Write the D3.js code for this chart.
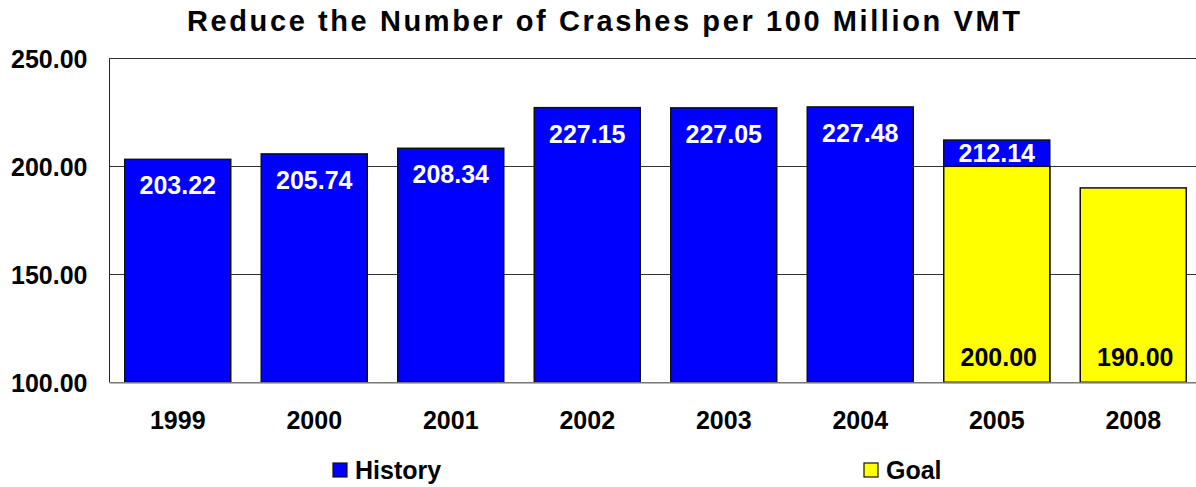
<!DOCTYPE html>
<html>
<head>
<meta charset="utf-8">
<script src="https://cdn.jsdelivr.net/npm/d3@7"></script>
<style>
  html, body { margin: 0; padding: 0; background: #fff; }
  svg { display: block; font-family: "Liberation Sans", Arial, sans-serif; font-weight: bold; }
</style>
</head>
<body>
<svg id="chart" width="1196" height="487"></svg>
<script>
const categories = ["1999", "2000", "2001", "2002", "2003", "2004", "2005", "2008"];
const historyValues = [203.22, 205.74, 208.34, 227.15, 227.05, 227.48, 212.14, null];
const goalValues = [null, null, null, null, null, null, 200.00, 190.00];
const yTicks = [100, 150, 200, 250];
const titleText = "Reduce the Number of Crashes per 100 Million VMT";
const seriesNames = ["History", "Goal"];
const seriesColors = ["#0000FF", "#FFFF00"];
const labelColors = ["#FFFFFF", "#000000"];

const svg = d3.select("#chart");
const W = 1196, H = 487;
const plot = { left: 109.5, top: 58.3, bottom: 382.3, right: 109.5 + 8 * 136.5 };

const x = d3.scaleBand().domain(categories).range([plot.left, plot.right])
  .paddingInner(0.2234).paddingOuter(0.1117);
const y = d3.scaleLinear().domain([100, 250]).range([plot.bottom, plot.top]);
const fmt = d3.format(".2f");

// title
svg.append("text")
  .attr("x", 187).attr("y", 31)
  .attr("font-size", 29).attr("letter-spacing", 2.6)
  .attr("fill", "#000")
  .text(titleText);

// gridlines (top border incl.)
svg.append("g").selectAll("line").data(yTicks.filter(d => d > 100)).join("line")
  .attr("x1", plot.left).attr("x2", W)
  .attr("y1", d => Math.round(y(d)) + 0.5).attr("y2", d => Math.round(y(d)) + 0.5)
  .attr("stroke", "#333").attr("stroke-width", 1);

// left border
svg.append("line")
  .attr("x1", plot.left).attr("x2", plot.left)
  .attr("y1", y(250)).attr("y2", y(100))
  .attr("stroke", "#222").attr("stroke-width", 1);

// y axis labels
const yAxis = d3.axisLeft(y).tickValues(yTicks).tickFormat(fmt).tickSize(0).tickPadding(0);
const gy = svg.append("g").attr("transform", `translate(87.5,0)`).call(yAxis);
gy.select(".domain").remove();
gy.selectAll("text").attr("font-size", 25).attr("font-family", "Liberation Sans, Arial, sans-serif")
  .attr("font-weight", "bold").attr("fill", "#000").attr("dy", "0.36em");

// history bars
const hist = categories.map((c, i) => ({ c, v: historyValues[i], g: goalValues[i] })).filter(d => d.v != null);
svg.append("g").selectAll("rect").data(hist).join("rect")
  .attr("x", d => x(d.c)).attr("width", x.bandwidth())
  .attr("y", d => y(d.v)).attr("height", d => y(100) - y(d.v))
  .attr("fill", seriesColors[0]).attr("stroke", "#111").attr("stroke-width", 1.5);

// goal bars (overlap, drawn in front)
const goal = categories.map((c, i) => ({ c, v: goalValues[i] })).filter(d => d.v != null);
svg.append("g").selectAll("rect").data(goal).join("rect")
  .attr("x", d => x(d.c)).attr("width", x.bandwidth())
  .attr("y", d => y(d.v)).attr("height", d => y(100) - y(d.v))
  .attr("fill", seriesColors[1]).attr("stroke", "#111").attr("stroke-width", 1.5);

// bottom axis line
svg.append("line")
  .attr("x1", plot.left).attr("x2", W)
  .attr("y1", y(100) + 0.5).attr("y2", y(100) + 0.5)
  .attr("stroke", "#777").attr("stroke-width", 1.5);

// history labels
svg.append("g").selectAll("text").data(hist).join("text")
  .attr("x", d => x(d.c) + x.bandwidth() / 2)
  .attr("y", d => (d.g != null && d.g < d.v) ? (y(d.v) + y(d.g)) / 2 + 9 : y(d.v) + 35)
  .attr("text-anchor", "middle").attr("font-size", 25).attr("fill", labelColors[0])
  .text(d => fmt(d.v));

// goal labels
svg.append("g").selectAll("text").data(goal).join("text")
  .attr("x", d => x(d.c) + x.bandwidth() / 2 + 2)
  .attr("y", y(100) - 16)
  .attr("text-anchor", "middle").attr("font-size", 25).attr("fill", labelColors[1])
  .text(d => fmt(d.v));

// x axis labels
const xAxis = d3.axisBottom(x).tickSize(0).tickPadding(0);
const gx = svg.append("g").attr("transform", `translate(0,${y(100)})`).call(xAxis);
gx.select(".domain").remove();
gx.selectAll("text").attr("font-size", 25).attr("font-family", "Liberation Sans, Arial, sans-serif")
  .attr("font-weight", "bold").attr("fill", "#000").attr("dy", null).attr("y", 47);

// legend
const legendX = [333, 864];
const lg = svg.append("g").selectAll("g").data(seriesNames).join("g")
  .attr("transform", (d, i) => `translate(${legendX[i]},463)`);
lg.append("rect").attr("width", 14).attr("height", 14)
  .attr("fill", (d, i) => seriesColors[i]).attr("stroke", "#111").attr("stroke-width", 1.2);
lg.append("text").attr("x", 22).attr("y", 16).attr("font-size", 25).attr("fill", "#000").text(d => d);
</script>
</body>
</html>
